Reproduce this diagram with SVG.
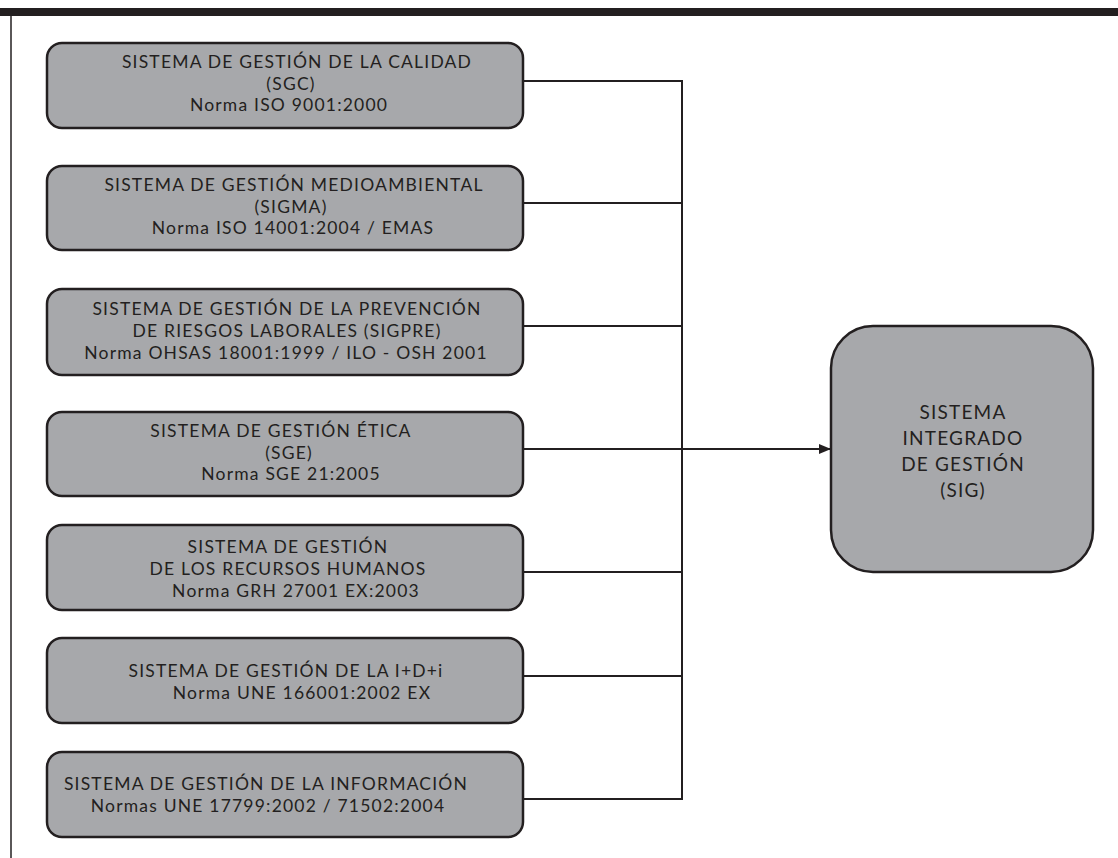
<svg xmlns="http://www.w3.org/2000/svg" width="1118" height="858" viewBox="0 0 1118 858">
<defs>
<style>
.box{fill:#a7a8ab;stroke:#231f20;stroke-width:2.5}
.t{font-family:Lato,"Noto Sans",sans-serif;font-size:17.5px;letter-spacing:1.2px;fill:#231f20;text-anchor:middle}
.s{font-size:19px;letter-spacing:1.2px}
.c{fill:none;stroke:#231f20;stroke-width:2}
</style>
<marker id="ah" markerWidth="12" markerHeight="10" refX="11" refY="5" orient="auto" markerUnits="userSpaceOnUse"><path d="M0,0 L12,5 L0,10 Z" fill="#231f20"/></marker>
</defs>
<rect width="1118" height="858" fill="#ffffff"/>
<rect x="0" y="8" width="1118" height="8" fill="#231f20"/>
<line x1="11" y1="16" x2="11" y2="858" stroke="#231f20" stroke-width="1.5"/>
<g id="connectors">
<path class="c" d="M523,81 H682 V799 H523"/>
<path class="c" d="M523,203 H682 M523,326 H682 M523,572 H682 M523,676 H682"/>
<path class="c" d="M523,449 H830" marker-end="url(#ah)"/>
</g>
<g id="sgc"><rect class="box" x="47" y="43" width="476" height="85" rx="15"/>
<text class="t" x="297" y="68">SISTEMA DE GESTIÓN DE LA CALIDAD</text>
<text class="t" x="291" y="89.5">(SGC)</text>
<text class="t" x="289" y="111">Norma ISO 9001:2000</text></g>
<g id="sigma"><rect class="box" x="47" y="166" width="476" height="84" rx="15"/>
<text class="t" x="294" y="191">SISTEMA DE GESTIÓN MEDIOAMBIENTAL</text>
<text class="t" x="291" y="212.5">(SIGMA)</text>
<text class="t" x="293" y="234">Norma ISO 14001:2004 / EMAS</text></g>
<g id="sigpre"><rect class="box" x="47" y="289" width="476" height="86" rx="15"/>
<text class="t" x="287" y="315">SISTEMA DE GESTIÓN DE LA PREVENCIÓN</text>
<text class="t" x="287" y="337">DE RIESGOS LABORALES (SIGPRE)</text>
<text class="t" x="286" y="359">Norma OHSAS 18001:1999 / ILO - OSH 2001</text></g>
<g id="sge"><rect class="box" x="47" y="412" width="476" height="84" rx="15"/>
<text class="t" x="281" y="437">SISTEMA DE GESTIÓN ÉTICA</text>
<text class="t" x="289" y="458.5">(SGE)</text>
<text class="t" x="291" y="480">Norma SGE 21:2005</text></g>
<g id="sgrh"><rect class="box" x="47" y="525" width="476" height="85" rx="15"/>
<text class="t" x="288" y="553">SISTEMA DE GESTIÓN</text>
<text class="t" x="288" y="575">DE LOS RECURSOS HUMANOS</text>
<text class="t" x="296" y="597">Norma GRH 27001 EX:2003</text></g>
<g id="sgidi"><rect class="box" x="47" y="638" width="476" height="85" rx="15"/>
<text class="t" x="286" y="677">SISTEMA DE GESTIÓN DE LA I+D+i</text>
<text class="t" x="302" y="699">Norma UNE 166001:2002 EX</text></g>
<g id="sgi"><rect class="box" x="47" y="752" width="476" height="85" rx="15"/>
<text class="t" x="266" y="790">SISTEMA DE GESTIÓN DE LA INFORMACIÓN</text>
<text class="t" x="268" y="812">Normas UNE 17799:2002 / 71502:2004</text></g>
<g id="sig"><rect class="box" x="831" y="326" width="262" height="246" rx="42"/>
<text class="t s" x="963" y="419">SISTEMA</text>
<text class="t s" x="963" y="445">INTEGRADO</text>
<text class="t s" x="963" y="471">DE GESTIÓN</text>
<text class="t s" x="963" y="497">(SIG)</text></g>
</svg>
